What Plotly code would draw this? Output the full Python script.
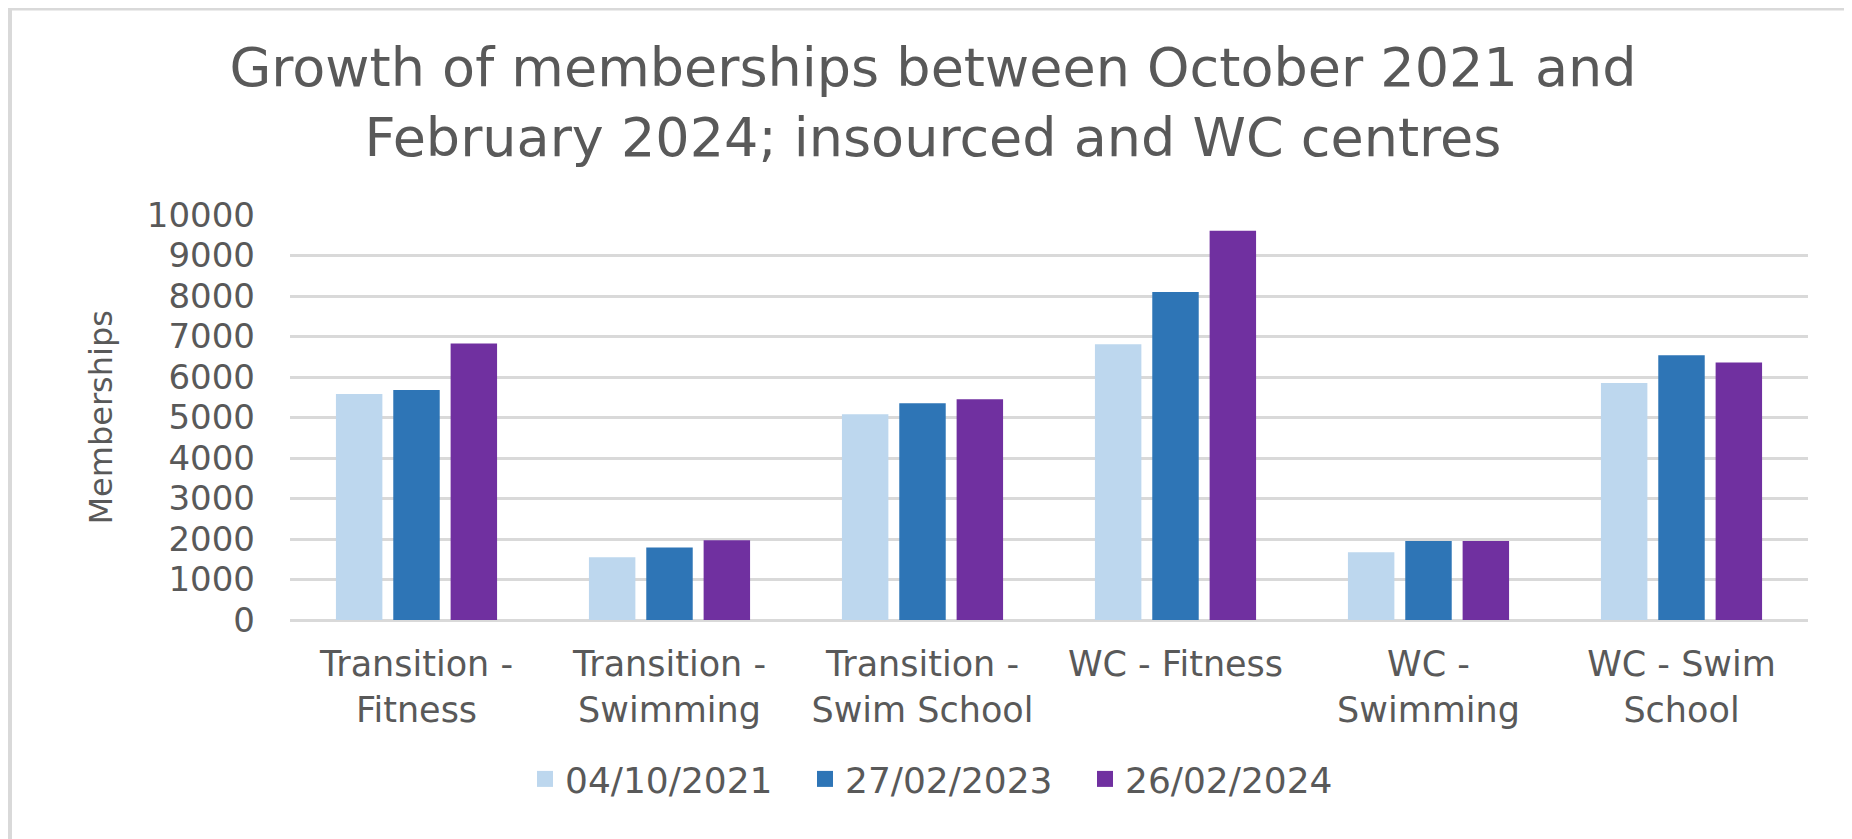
import plotly.graph_objects as go

categories = ["Transition -<br>Fitness", "Transition -<br>Swimming", "Transition -<br>Swim School",
              "WC - Fitness", "WC -<br>Swimming", "WC - Swim<br>School"]
series_names = ["04/10/2021", "27/02/2023", "26/02/2024"]
oct_2021 = [5580, 1550, 5080, 6810, 1670, 5850]
feb_2023 = [5680, 1790, 5350, 8100, 1950, 6540]
feb_2024 = [6830, 1970, 5450, 9610, 1950, 6360]
y_ticks = [0, 1000, 2000, 3000, 4000, 5000, 6000, 7000, 8000, 9000, 10000]

colors = ["#BDD7EE", "#2E75B6", "#7030A0"]
TXT = "#595959"
FONT = "DejaVu Sans"

W, H = 1852, 839
OFF = 8  # page body margin
ML, MR, MT, MB = 282, 52, 207, 227

fig = go.Figure()
for name, vals, col in zip(series_names, [oct_2021, feb_2023, feb_2024], colors):
    fig.add_trace(go.Bar(name=name, x=categories, y=vals, showlegend=False,
                         marker=dict(color=col, line=dict(width=0))))
# legend entries with larger square swatches
for name, col in zip(series_names, colors):
    fig.add_trace(go.Scatter(name=name, x=[None], y=[None], mode="markers", showlegend=True,
                             marker=dict(symbol="square", size=16, color=col)))

pw = W - ML - MR
ph = H - MT - MB
def px_x(x):
    return (x - OFF - ML) / pw
def px_y(y):
    return (H - MB - (y - OFF)) / ph

shapes = [
    dict(type="line", xref="paper", yref="paper", x0=px_x(10), x1=px_x(W + 20), y0=px_y(9), y1=px_y(9),
         line=dict(color="#D9D9D9", width=3)),
    dict(type="line", xref="paper", yref="paper", x0=px_x(10), x1=px_x(10), y0=px_y(8), y1=px_y(H + 20),
         line=dict(color="#D9D9D9", width=4)),
]

annotations = [
    dict(text="Memberships", xref="paper", yref="paper", x=px_x(100), y=0.5, xanchor="center",
         yanchor="middle", textangle=-90, showarrow=False, font=dict(family=FONT, size=32, color=TXT)),
]

fig.update_layout(
    width=W, height=H,
    margin=dict(l=ML, r=MR, t=MT, b=MB, pad=0),
    paper_bgcolor="white", plot_bgcolor="white",
    barmode="group", bargap=0.32, bargroupgap=0.19,
    font=dict(family=FONT, color=TXT, size=33),
    title=dict(text="Growth of memberships between October 2021 and<br>February 2024; insourced and WC centres",
               x=(933 - OFF) / W, xanchor="center", y=1 - 78 / H, yanchor="middle", yref="container",
               font=dict(family=FONT, size=54, color=TXT)),
    xaxis=dict(showgrid=False, showline=False, ticks="", automargin=False,
               tickfont=dict(size=35, color=TXT), ticklabelstandoff=20),
    yaxis=dict(range=[0, 10000], tickvals=y_ticks, tickformat="d", showgrid=True, gridcolor="#D9D9D9",
               gridwidth=2.5, zeroline=True, zerolinecolor="#D9D9D9", zerolinewidth=2.5, showline=False,
               ticks="", automargin=False, tickfont=dict(size=34, color=TXT), ticklabelstandoff=34),
    legend=dict(orientation="h", x=px_x(945), xanchor="center", y=px_y(779), yanchor="middle",
                font=dict(size=36, color=TXT), bgcolor="rgba(0,0,0,0)", itemclick=False,
                entrywidth=235),
    annotations=annotations,
    shapes=shapes,
    showlegend=True,
)

fig.write_html("out.html")
